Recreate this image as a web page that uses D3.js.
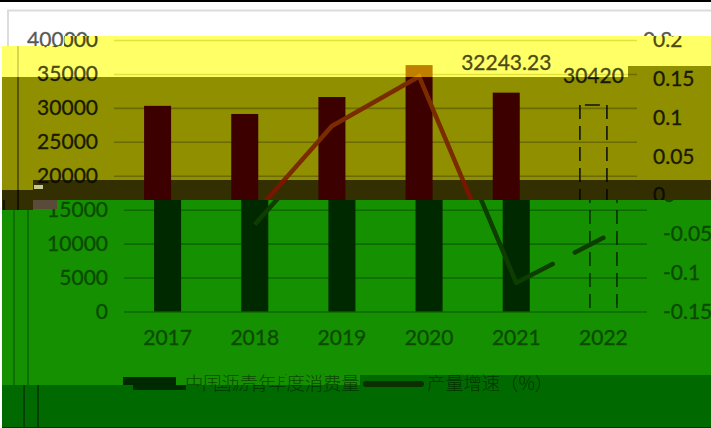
<!DOCTYPE html>
<html>
<head>
<meta charset="utf-8">
<script src="https://cdn.jsdelivr.net/npm/d3@7"></script>
<style>
  html, body { margin: 0; background: #fff; }
  svg { display: block; }
</style>
</head>
<body>
<div id="chart"></div>
<script>
// values
const categories = ["2017", "2018", "2019", "2020", "2021", "2022"];
const consumption = [30300, 29100, 31600, 36300, 32243.23, 30420];
const growth = [null, -0.038, 0.089, 0.153, -0.113, -0.055];
const leftTicks = [0, 5000, 10000, 15000, 20000, 25000, 30000, 35000, 40000];
const rightTicks = [-0.15, -0.1, -0.05, 0, 0.05, 0.1, 0.15, 0.2];
const seriesNames = ["中国沥青年度消费量", "产量增速（%）"];

const width = 711, height = 428;
const plotTop = 40, plotBottom = 311.5, plotLeft = 124, plotRight = 647;
const numFont = "Lato, Carlito, 'Open Sans', sans-serif";
const cjkFont = "'Noto Sans CJK SC', sans-serif";

const x = d3.scaleBand().domain(categories).range([plotLeft, plotRight])
  .paddingInner(0.69).paddingOuter(0.345);
const yLeft = d3.scaleLinear().domain([0, 40000]).range([plotBottom, plotTop]);
const yRight = d3.scaleLinear().domain([-0.15, 0.2]).range([plotBottom, plotTop]);

const greenColors = { bg: "#149000", text: "#0b4a00", grid: "#0c6a00", bar: "#002900", line: "#0e3d00", frame: "#0e7000", dash: "#063000" };

// The picture is a damaged image: the same chart repeats in horizontal slices,
// each one tinted and slid sideways. Slice edges step at a few x positions.
const slices = [
  { name: "white", dx: -20, bg: "#ffffff", text: "#595959", grid: "#d9d9d9", bar: "#4a4a4a", line: "#d07030", frame: "#dcdcdc", dash: "#333",
    outline: [[0, 2], [711, 2], [711, 36], [64, 36], [64, 46], [0, 46]] },
  { name: "yellow", dx: -10, bg: "#ffff66", text: "#4b4b14", grid: "#e2e23c", bar: "#bf8000", line: "#e09000", frame: "#d8d850", dash: "#333",
    outline: [[2, 46], [64, 46], [64, 36], [711, 36], [711, 66], [628, 66], [628, 77], [2, 77]] },
  { name: "olive", dx: -10, bg: "#8f8f00", text: "#191900", grid: "#6b6b00", bar: "#3d0000", line: "#7a2c00", frame: "#555500", dash: "#111",
    outline: [[2, 77], [628, 77], [628, 66], [711, 66], [711, 180], [33, 180], [33, 190], [2, 190]] },
  { name: "darkolive", dx: -10, bg: "#332f00", text: "#0d0d00", grid: "#5a5a00", bar: "#3d0000", line: "#7a1500", frame: "#151300", dash: "#080800",
    outline: [[2, 190], [33, 190], [33, 180], [711, 180], [711, 200], [33, 200], [33, 210], [2, 210]] },
  { name: "green", dx: 0, ...greenColors,
    outline: [[2, 210], [33, 210], [33, 200], [711, 200], [711, 375], [280, 375], [280, 385], [2, 385]] },
  // the row under the legend slides before its colour changes
  { name: "greenshift", dx: 10, ...greenColors,
    outline: [[280, 375], [360, 375], [360, 385], [280, 385]] },
  { name: "darkgreen", dx: 10, bg: "#006a00", text: "#003500", grid: "#004a00", bar: "#002b00", line: "#0a2f00", frame: "#004000", dash: "#002500",
    outline: [[2, 385], [360, 385], [360, 375], [711, 375], [711, 428], [2, 428]] }
];

const svg = d3.select("#chart").append("svg")
  .attr("width", width)
  .attr("height", height);

function drawChart(g, c) {
  // window frame behind the chart
  g.append("path")
    .attr("d", `M28,${height}V10.5H${width + 40}`)
    .attr("fill", "none").attr("stroke", c.frame).attr("stroke-width", 2);
  g.append("path")
    .attr("d", `M14,200V${height}`)
    .attr("fill", "none").attr("stroke", c.frame).attr("stroke-width", 2);

  // gridlines and value labels, left axis
  const axisL = g.append("g")
    .attr("transform", `translate(${plotLeft},0)`)
    .call(d3.axisLeft(yLeft).tickValues(leftTicks).tickSize(plotLeft - plotRight).tickPadding(16).tickFormat(d3.format("d")));
  axisL.select(".domain").remove();
  axisL.selectAll("line").attr("stroke", c.grid).attr("stroke-width", 1.6);

  const axisR = g.append("g")
    .attr("transform", `translate(${plotRight},0)`)
    .call(d3.axisRight(yRight).tickValues(rightTicks).tickSize(0).tickPadding(16).tickFormat(d => String(d)));
  axisR.select(".domain").remove();

  const axisB = g.append("g")
    .attr("transform", `translate(0,${plotBottom})`)
    .call(d3.axisBottom(x).tickSize(0).tickPadding(19));
  axisB.select(".domain").remove();

  g.selectAll(".tick text")
    .attr("fill", c.text)
    .attr("stroke", c.text)
    .attr("stroke-width", 0.3)
    .style("font-family", numFont)
    .style("font-size", "21px");

  // solid bars, the last year is only an outline
  g.selectAll("rect.bar")
    .data(categories.slice(0, -1))
    .join("rect")
    .attr("class", "bar")
    .attr("x", d => x(d))
    .attr("width", x.bandwidth())
    .attr("y", (d, i) => yLeft(consumption[i]))
    .attr("height", (d, i) => plotBottom - yLeft(consumption[i]))
    .attr("fill", c.bar);

  const last = categories.length - 1;
  const xa = x(categories[last]), xb = xa + x.bandwidth(), yt = yLeft(consumption[last]);
  [xa, xb].forEach(px => {
    g.append("line")
      .attr("x1", px).attr("x2", px).attr("y1", yt).attr("y2", plotBottom)
      .attr("stroke", c.dash).attr("stroke-width", 1.6).attr("stroke-dasharray", "14 7");
  });
  g.append("line")
    .attr("x1", xa).attr("x2", xb).attr("y1", yt).attr("y2", yt)
    .attr("stroke", c.dash).attr("stroke-width", 1.6).attr("stroke-dasharray", "0 5 15 7");

  // growth line, dashed for the last segment
  const cx = i => x(categories[i]) + x.bandwidth() / 2;
  const lineGen = d3.line().x(d => cx(d)).y(d => yRight(growth[d]));
  g.append("path")
    .attr("d", lineGen([1, 2, 3, 4]))
    .attr("fill", "none").attr("stroke", c.line).attr("stroke-width", 4.5);
  g.append("path")
    .attr("d", lineGen([4, 5]))
    .attr("fill", "none").attr("stroke", c.line).attr("stroke-width", 4.5)
    .attr("stroke-linecap", "round").attr("stroke-dasharray", "41 25");

  // data labels
  [[4, "32243.23", 70], [5, "30420", 83]].forEach(([i, label, ly]) => {
    g.append("text")
      .attr("class", "lab")
      .attr("x", cx(i)).attr("y", ly)
      .attr("text-anchor", "middle")
      .attr("fill", c.text)
      .attr("stroke", c.text)
      .attr("stroke-width", 0.3)
      .style("font-family", numFont)
      .style("font-size", "21px")
      .text(label);
  });

  // legend
  g.append("rect")
    .attr("x", 123).attr("y", 377).attr("width", 53).attr("height", 13)
    .attr("fill", c.bar);
  g.append("text")
    .attr("class", "lab")
    .attr("x", 185).attr("y", 390)
    .attr("fill", c.text)
    .style("font-family", cjkFont).style("font-weight", 300).style("font-size", "18.3px")
    .text(seriesNames[0]);
  g.append("line")
    .attr("x1", 356).attr("x2", 411).attr("y1", 384).attr("y2", 384)
    .attr("stroke", c.line).attr("stroke-width", 6).attr("stroke-linecap", "round");
  g.append("text")
    .attr("class", "lab")
    .attr("x", 417).attr("y", 390)
    .attr("fill", c.text)
    .style("font-family", cjkFont).style("font-weight", 300).style("font-size", "18.3px")
    .text(seriesNames[1]);
}

const defs = svg.append("defs");
slices.forEach(s => {
  const pts = s.outline.join(" ");
  defs.append("clipPath").attr("id", "clip-" + s.name)
    .append("polygon").attr("points", pts);
  const layer = svg.append("g").attr("clip-path", `url(#clip-${s.name})`);
  layer.append("polygon").attr("points", pts).attr("fill", s.bg);
  const inner = layer.append("g").attr("transform", `translate(${s.dx},0)`);
  drawChart(inner, s);

  // a slice only keeps the labels that actually reach into it
  const ys = s.outline.map(p => p[1]);
  const yMin = d3.min(ys), yMax = d3.max(ys);
  inner.selectAll("text").each(function () {
    const r = this.getBoundingClientRect();
    if (r.bottom - 3 < yMin || r.top + 3 > yMax) d3.select(this).remove();
  });
});

// black edge on top, dark edge at the bottom
svg.append("rect").attr("x", 0).attr("y", 0).attr("width", width).attr("height", 2).attr("fill", "#000");
svg.append("rect").attr("x", 2).attr("y", 427).attr("width", width).attr("height", 1).attr("fill", "#003a00");

// the two small blocks of colour noise on the left
svg.append("rect").attr("x", 33).attr("y", 200).attr("width", 24).attr("height", 9).attr("fill", "#5a4a3a");
svg.append("rect").attr("x", 34).attr("y", 185).attr("width", 9).attr("height", 4).attr("fill", "#c8c890");
</script>
</body>
</html>
